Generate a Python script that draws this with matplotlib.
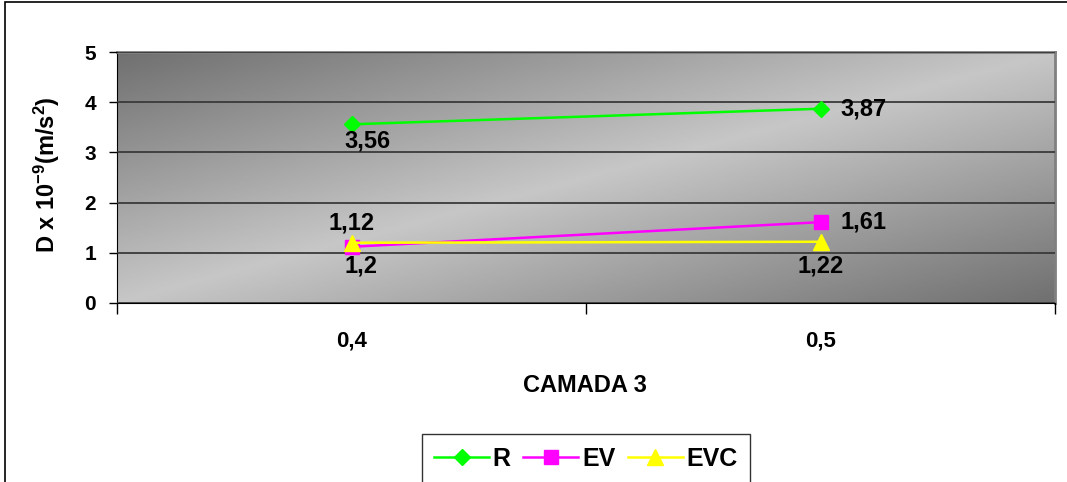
import matplotlib
matplotlib.use('Agg')
import matplotlib.pyplot as plt
import numpy as np
from matplotlib.patches import Rectangle

# dados
camadas = ['0,4', '0,5']
r_vals = [3.56, 3.87]
ev_vals = [1.12, 1.61]
evc_vals = [1.2, 1.22]
yticks = [0, 1, 2, 3, 4, 5]

plt.rcParams['font.family'] = ['Liberation Sans', 'DejaVu Sans']
plt.rcParams['font.weight'] = 'bold'
plt.rcParams['mathtext.fontset'] = 'custom'
plt.rcParams['mathtext.rm'] = 'Liberation Sans:bold'
plt.rcParams['mathtext.bf'] = 'Liberation Sans:bold'
plt.rcParams['mathtext.it'] = 'Liberation Sans:bold'
plt.rcParams['axes.unicode_minus'] = False

fig = plt.figure(figsize=(10.67, 4.82), dpi=100)
ax = fig.add_axes([117 / 1067, 1 - 303 / 482, 938 / 1067, 251 / 482])

# fundo em degradê (escuro - claro - escuro na diagonal)
gx, gy = np.meshgrid(np.linspace(0, 1, 300), np.linspace(1, 0, 120))
u = (gx + (1 - gy)) / 2
grad = 1 - np.abs(2 * u - 1)
ax.imshow(grad, extent=(0, 1, 0, 1), transform=ax.transAxes, cmap='gray',
          vmin=-1.29, vmax=1.65, aspect='auto', zorder=0, interpolation='bilinear')

x = np.arange(len(camadas))
ax.plot(x, r_vals, color='#00ff00', marker='D', markersize=8, lw=1.8, label='R', zorder=3)
ax.plot(x, ev_vals, color='#ff00ff', marker='s', markersize=10, lw=1.8, label='EV', zorder=3)
ax.plot(x, evc_vals, color='#ffff00', marker='^', markersize=11, lw=1.8, label='EVC', zorder=4)

# rótulos dos pontos
rotulos = [
    (0, r_vals[0], '3,56', (16, -17), 'center'),
    (1, r_vals[1], '3,87', (20, 0), 'left'),
    (0, ev_vals[0], '1,12', (0, 24), 'center'),
    (1, ev_vals[1], '1,61', (20, 0), 'left'),
    (0, evc_vals[0], '1,2', (10, -23), 'center'),
    (1, evc_vals[1], '1,22', (0, -24), 'center'),
]
for xi, yi, txt, off, ha in rotulos:
    ax.annotate(txt, (xi, yi), xytext=off, textcoords='offset pixels',
                ha=ha, va='center', fontsize=17, fontweight='bold', zorder=5)

ax.set_xlim(-0.5, 1.5)
ax.set_ylim(0, 5)
ax.set_yticks(yticks)
ax.set_yticklabels([str(v) for v in yticks], fontsize=15, fontweight='bold')
ax.yaxis.grid(True, color='#3a3a3a', lw=1.3, zorder=1)
ax.set_axisbelow(False)

ax.set_xticks([-0.5, 0.5, 1.5])
ax.set_xticklabels(['', '', ''])
ax.set_xticks(x, minor=True)
ax.set_xticklabels(camadas, minor=True, fontsize=16, fontweight='bold')
ax.tick_params(axis='x', which='minor', length=0, pad=20)
ax.tick_params(axis='x', which='major', length=8, width=1, color='black', direction='out')
ax.tick_params(axis='y', length=6, width=1, direction='out', pad=9)

ax.spines['top'].set_color('#808080')
ax.spines['right'].set_color('#808080')
ax.spines['top'].set_linewidth(2)
ax.spines['right'].set_linewidth(2)
ax.spines['left'].set_color('black')
ax.spines['bottom'].set_color('black')

fig.text(585 / 1067, 1 - 385 / 482, 'CAMADA 3', ha='center', va='center',
         fontsize=17, fontweight='bold')
fig.text(47 / 1067, 1 - 175 / 482, 'D x 10$^{-9}$(m/s$^{2}$)',
         rotation=90, ha='center', va='center', fontsize=17, fontweight='bold')

leg = fig.legend(loc='upper center', bbox_to_anchor=(586 / 1067, 1 - 434 / 482),
                 ncol=3, frameon=True, fancybox=False, borderaxespad=0,
                 handlelength=2.2, columnspacing=0.5, handletextpad=0.15,
                 borderpad=0.5, prop={'weight': 'bold', 'size': 18})
leg.get_frame().set_edgecolor('black')
leg.get_frame().set_linewidth(1)

# borda externa do gráfico
fig.patches.append(Rectangle((5 / 1067, -0.2), 1.2, 1.2 - 2 / 482,
                             transform=fig.transFigure, fill=False,
                             edgecolor='black', lw=1.2))

fig.savefig('out.png', dpi=100)
